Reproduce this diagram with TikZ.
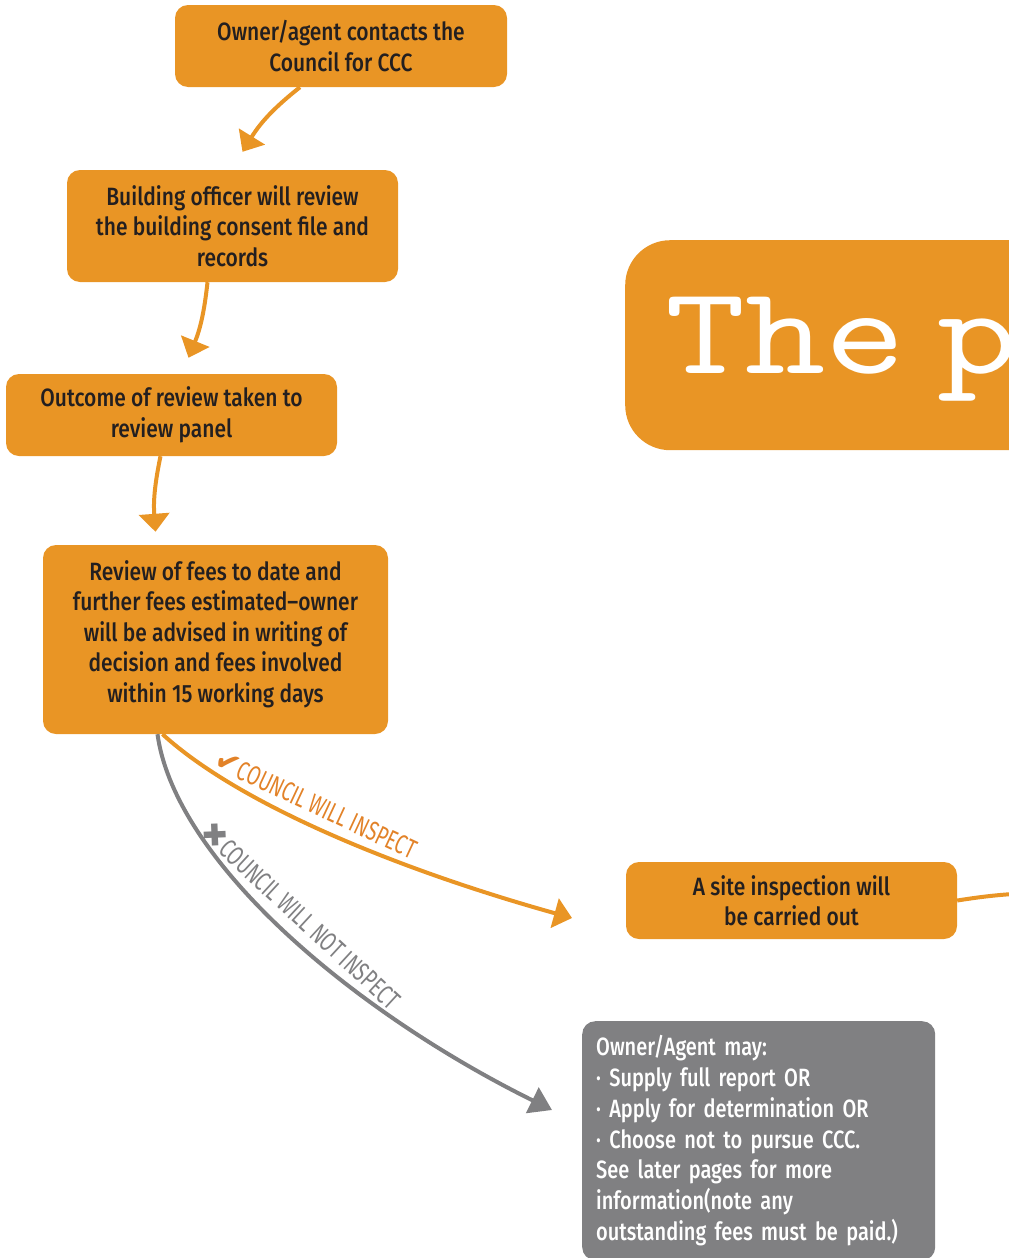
\documentclass[tikz,border=0pt]{standalone}
\usepackage{fontspec}
\setmainfont{Fira Sans}[UprightFont=* Medium,FakeStretch=0.84]
\newfontfamily\greyfont{Fira Sans}[UprightFont=* Medium,FakeStretch=0.8,WordSpace=0.8]
\newfontfamily\labelfont{Fira Sans}[FakeStretch=0.7]
\newfontfamily\symfont{DejaVu Sans}
\newfontfamily\titlefont{lmmono10-regular.otf}[FakeStretch=1.22,WordSpace=0.4]
\usetikzlibrary{arrows.meta}

\definecolor{ccorange}{RGB}{233,149,37}
\definecolor{ccgrey}{RGB}{128,128,130}
\definecolor{ccdark}{RGB}{35,31,32}
\definecolor{cclabel}{RGB}{226,130,40}

\begin{document}
\begin{tikzpicture}
  [x=1pt,y=-1pt,
   box/.style={rectangle,rounded corners=13pt,fill=ccorange,text=ccdark,align=center,
     inner sep=0pt,font=\fontsize{25}{30.5}\selectfont},
   greybox/.style={rectangle,rounded corners=13pt,fill=ccgrey,text=white,align=left,
     inner xsep=14pt,inner ysep=0pt,font=\greyfont\fontsize{25}{30.8}\selectfont},
   link/.style={draw=ccorange,line width=4pt,-{Triangle[width=30pt,length=18pt]}},
   nolink/.style={draw=ccgrey,line width=4pt,-{Triangle[width=28pt,length=22pt]}},
   yeslabel/.style={sloped,above=9pt,text=cclabel,inner sep=0pt,font=\labelfont\fontsize{27}{27}\selectfont},
   nolabel/.style={sloped,above=10pt,text=ccgrey,inner sep=0pt,font=\labelfont\fontsize{27}{27}\selectfont}]

  \useasboundingbox (0,0) rectangle (1009,1258);
  \clip (0,0) rectangle (1009,1258);

  % Cuadro del titulo
  \node (titlebox) [rectangle,rounded corners=45pt,fill=ccorange,anchor=north west,
    minimum width=450pt,minimum height=210pt] at (625,240) {};
  \node (title) [anchor=base west,inner sep=0pt,text=white,
    font=\titlefont\fontsize{125}{125}\selectfont] at (665,373) {The p};

  % Pasos del proceso
  \node (contact) [box,minimum width=332pt,minimum height=82pt] at (341,46)
    {Owner/agent contacts the\\Council for CCC};
  \node (review) [box,minimum width=331pt,minimum height=112pt] at (232.5,226)
    {Building officer will review\\the building consent file and\\records};
  \node (panel) [box,minimum width=331pt,minimum height=82pt] at (171.5,415)
    {Outcome of review taken to\\review panel};
  \node (fees) [box,minimum width=345pt,minimum height=189pt] at (215.5,639.5)
    {Review of fees to date and\\further fees estimated–owner\\will be advised in writing of\\decision and fees involved\\within 15 working days\\[-14pt]};
  \node (site) [box,minimum width=331pt,minimum height=77pt] at (791.5,900.5)
    {A site inspection will\\be carried out};
  \node (options) [greybox,anchor=north west,text width=325pt,minimum height=239pt] at (582,1021)
    {Owner/Agent may:\\· Supply full report OR\\· Apply for determination OR\\· Choose not to pursue CCC.\\See later pages for more\\information(note any\\outstanding fees must be paid.)};

  % Extremos libres
  \coordinate (siteend) at (572,918);
  \coordinate (optend) at (552,1110);
  \coordinate (exit) at (1030,893);

  % Flechas entre pasos
  \draw[link] ([xshift=-41pt]contact.south) to[bend right=10] ([xshift=10pt,yshift=18pt]review.north);
  \draw[link] ([xshift=-25pt]review.south) to[bend left=8] ([xshift=17pt,yshift=16pt]panel.north);
  \draw[link] ([xshift=-11pt]panel.south) to[bend right=8] ([xshift=-60pt,yshift=13pt]fees.north);

  % Decision de inspeccion
  \draw[link] ([xshift=-53pt]fees.south) .. controls (240,805) and (400,870) .. (siteend)
    node[yeslabel,pos=0.44] {{\symfont\fontsize{30}{30}\selectfont ✔}COUNCIL WILL INSPECT};
  \draw[nolink] ([xshift=-58pt]fees.south) .. controls (175,860) and (350,1010) .. (optend)
    node[nolabel,pos=0.5] {{\symfont\fontsize{30}{30}\selectfont ✖}COUNCIL WILL NOT INSPECT};

  \draw[draw=ccorange,line width=4pt] (site.east) to[bend left=3] (exit);

\end{tikzpicture}
\end{document}
